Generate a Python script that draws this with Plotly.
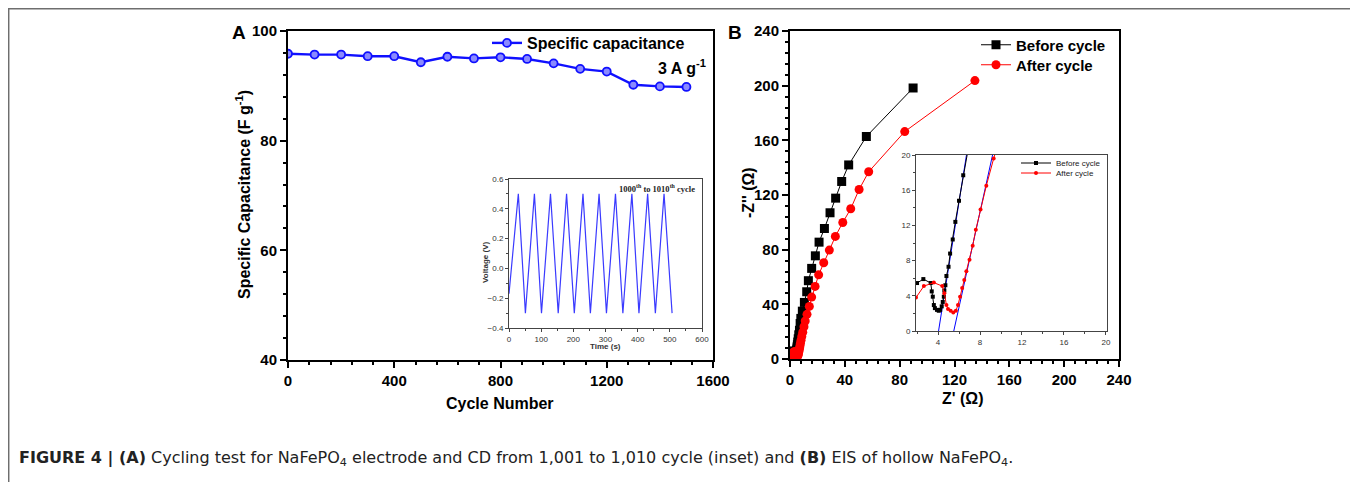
import plotly.graph_objects as go

W, H = 1358, 482

# ---- panel A: cycling test ----
cycles = [0, 100, 200, 300, 400, 500, 600, 700, 800, 900, 1000, 1100, 1200, 1300, 1400, 1500]
capacitance = [95.85, 95.7, 95.7, 95.4, 95.4, 94.3, 95.3, 95.0, 95.2, 94.9, 94.1, 93.1, 92.6, 90.2, 89.9, 89.8]

# inset A: charge/discharge 1000th-1010th cycle (turning points)
cd_time = [0, 29, 51, 79, 101, 129, 153, 179, 203, 230, 253, 280, 303, 331, 354, 382, 404, 431, 455, 482, 507]
cd_volt = [-0.17, 0.5, -0.3, 0.5, -0.3, 0.5, -0.3, 0.5, -0.3, 0.5, -0.3, 0.5, -0.3, 0.5, -0.3, 0.5, -0.3, 0.5, -0.3, 0.5, -0.3]

# ---- panel B: EIS ----
before_x = [1.0, 1.5, 2.0, 2.6, 3.3, 3.4, 3.5, 3.6, 3.7, 3.9, 4.07, 4.2, 4.35, 4.45, 4.55, 4.6, 4.7, 4.8,
            5.0, 5.15, 5.4, 5.65, 6.0, 6.4, 6.9, 7.4, 7.9, 9.0, 10.5, 12.2, 13.4, 15.8, 18.5, 21.2,
            25.1, 29.2, 33.3, 37.7, 42.8, 55.7, 89.8]
before_y = [2.0, 4.5, 5.45, 5.9, 5.45, 4.5, 3.9, 2.95, 2.6, 2.4, 2.3, 2.4, 2.8, 3.3, 3.9, 4.6, 5.2, 6.25,
            7.3, 8.8, 10.4, 12.4, 14.8, 17.7, 21.0, 26.0, 29.7, 35.0, 41.4, 49.2, 57.3, 66.3, 75.5, 85.5,
            95.5, 107.0, 117.7, 129.9, 142.0, 162.8, 198.3]
after_x = [0.8, 1.3, 1.9, 2.65, 3.6, 4.4, 4.6, 4.8, 4.95, 5.2, 5.45, 5.7, 5.9, 6.1, 6.3, 6.5, 6.7,
           7.0, 7.3, 7.6, 8.05, 8.6, 9.3, 10.2, 11.1, 12.4, 14.1, 15.8, 18.3, 20.9, 24.6, 28.7,
           33.1, 38.5, 44.3, 50.4, 57.4, 83.7, 134.9]
after_y = [1.0, 2.6, 3.8, 5.1, 5.5, 5.1, 4.3, 2.95, 2.5, 2.3, 2.1, 2.3, 2.95, 3.9, 4.9, 5.8, 6.8,
           8.1, 9.7, 11.5, 13.8, 16.5, 19.6, 23.6, 27.8, 32.7, 38.5, 45.3, 53.1, 61.6, 70.4, 79.7,
           89.7, 99.9, 109.9, 124.0, 137.0, 166.4, 203.7]
fit_before_x = [4.05, 6.75]
fit_before_y = [0, 20.3]
fit_after_x = [5.5, 9.25]
fit_after_y = [0, 20.3]

OFF = 8  # page body margin


def px(x):
    return (x - OFF) / W


def py(y):
    return 1 - (y - OFF) / H


SANS = "Liberation Sans, Arial"
bold = dict(family=SANS, size=15, color="black", weight="bold")
small = dict(family=SANS, size=8, color="#333")

fig = go.Figure()

fig.add_trace(go.Scatter(x=cycles, y=capacitance, mode="lines+markers", name="Specific capacitance",
                         line=dict(color="#1010ff", width=2.4),
                         marker=dict(symbol="circle", size=8, color="#8a8aff",
                                     line=dict(color="#1010ff", width=1.8)),
                         xaxis="x", yaxis="y", legend="legend"))
fig.add_trace(go.Scatter(x=cd_time, y=cd_volt, mode="lines", showlegend=False,
                         line=dict(color="#3a3aff", width=1.2), xaxis="x2", yaxis="y2"))

fig.add_trace(go.Scatter(x=before_x, y=before_y, mode="lines+markers", name="Before cycle",
                         line=dict(color="black", width=1),
                         marker=dict(symbol="square", size=9, color="black"),
                         xaxis="x3", yaxis="y3", legend="legend2"))
fig.add_trace(go.Scatter(x=after_x, y=after_y, mode="lines+markers", name="After cycle",
                         line=dict(color="red", width=1),
                         marker=dict(symbol="circle", size=9, color="red"),
                         xaxis="x3", yaxis="y3", legend="legend3"))

fig.add_trace(go.Scatter(x=fit_before_x, y=fit_before_y, mode="lines", showlegend=False,
                         line=dict(color="blue", width=1), xaxis="x4", yaxis="y4"))
fig.add_trace(go.Scatter(x=fit_after_x, y=fit_after_y, mode="lines", showlegend=False,
                         line=dict(color="blue", width=1), xaxis="x4", yaxis="y4"))
fig.add_trace(go.Scatter(x=before_x, y=before_y, mode="lines+markers", name="Before cycle",
                         line=dict(color="black", width=1),
                         marker=dict(symbol="square", size=4, color="black"),
                         xaxis="x4", yaxis="y4", legend="legend4"))
fig.add_trace(go.Scatter(x=after_x, y=after_y, mode="lines+markers", name="After cycle",
                         line=dict(color="red", width=1),
                         marker=dict(symbol="circle", size=4, color="red"),
                         xaxis="x4", yaxis="y4", legend="legend5"))


def main_axis(domain, anchor, rng, dtick, minor, tick0=0):
    return dict(domain=domain, anchor=anchor, range=rng, dtick=dtick, tick0=tick0,
                automargin=False,
                showline=True, linecolor="black", linewidth=2, mirror=True,
                ticks="outside", ticklen=6, tickwidth=2, tickcolor="black",
                minor=dict(dtick=minor, tick0=tick0, ticks="outside", ticklen=3, tickwidth=1.5,
                           tickcolor="black"),
                showgrid=False, zeroline=False, tickfont=bold)


def inset_axis(domain, anchor, rng, dtick, minor, tick0=0, fmt=None):
    d = dict(domain=domain, anchor=anchor, range=rng, dtick=dtick, tick0=tick0,
             automargin=False,
             showline=True, linecolor="#444", linewidth=1, mirror=True,
             ticks="outside", ticklen=3, tickwidth=1, tickcolor="#444",
             minor=dict(dtick=minor, tick0=tick0, ticks="outside", ticklen=2, tickwidth=1,
                        tickcolor="#444"),
             showgrid=False, zeroline=False, tickfont=small)
    if fmt:
        d["tickformat"] = fmt
    return d


def leg(x, y, size, color="black", weight="bold"):
    return dict(x=px(x), y=py(y), xanchor="left", yanchor="middle", bgcolor="rgba(0,0,0,0)",
                font=dict(family=SANS, size=size, color=color, weight=weight))


fig.update_layout(
    width=W, height=H, margin=dict(l=0, r=0, t=0, b=0, autoexpand=False),
    paper_bgcolor="white", plot_bgcolor="white",
    xaxis=main_axis([px(288), px(713)], "y", [0, 1600], 400, 80),
    yaxis=main_axis([py(360), py(31)], "x", [40, 100], 20, 4),
    xaxis2=inset_axis([px(509), px(702)], "y2", [0, 600], 100, 50),
    yaxis2=inset_axis([py(328), py(179)], "x2", [-0.4, 0.6], 0.2, 0.1, tick0=-0.4, fmt=".1f"),
    xaxis3=main_axis([px(790), px(1119)], "y3", [0, 240], 40, 8),
    yaxis3=main_axis([py(359), py(31)], "x3", [0, 240], 40, 8),
    xaxis4=inset_axis([px(916), px(1107)], "y4", [1.9, 20.1], 4, 2),
    yaxis4=inset_axis([py(331), py(155)], "x4", [0, 20], 4, 2),
    legend=leg(487, 43, 16),
    legend2=leg(976, 45, 15),
    legend3=leg(976, 65, 15),
    legend4=leg(1016, 163, 8, "#222", "normal"),
    legend5=leg(1016, 173, 8, "#222", "normal"),
    showlegend=True,
)

annos = [
    dict(x=px(239), y=py(32), text="<b>A</b>", font=dict(family=SANS, size=19, color="black")),
    dict(x=px(735), y=py(32), text="<b>B</b>", font=dict(family=SANS, size=19, color="black")),
    dict(x=px(500), y=py(403), text="<b>Cycle Number</b>", font=dict(family=SANS, size=16, color="black")),
    dict(x=px(243), y=py(195), text="<b>Specific Capacitance (F g<sup>-1</sup>)</b>", textangle=-90,
         font=dict(family=SANS, size=16, color="black")),
    dict(x=px(708), y=py(67), text="<b>3 A g<sup>-1</sup></b>", xanchor="right",
         font=dict(family=SANS, size=16, color="black")),
    dict(x=px(697), y=py(188), text="1000<sup>th</sup> to 1010<sup>th</sup> cycle", xanchor="right",
         font=dict(family="Liberation Serif, Times New Roman", size=8.5, color="#222", weight="bold")),
    dict(x=px(485), y=py(262), text="<b>Voltage (V)</b>", textangle=-90,
         font=dict(family=SANS, size=8, color="#333")),
    dict(x=px(605), y=py(346), text="<b>Time (s)</b>",
         font=dict(family=SANS, size=8, color="#333")),
    dict(x=px(963), y=py(398), text="<b>Z' (Ω)</b>", font=dict(family=SANS, size=16, color="black")),
    dict(x=px(748), y=py(192), text="<b>-Z'' (Ω)</b>", textangle=-90,
         font=dict(family=SANS, size=16, color="black")),
    dict(x=px(17), y=py(458), xanchor="left",
         text="<b>FIGURE 4 | (A)</b> Cycling test for NaFePO<sub>4</sub> electrode and CD from 1,001 to 1,010 "
              "cycle (inset) and <b>(B)</b> EIS of hollow NaFePO<sub>4</sub>.",
         font=dict(family="DejaVu Sans, Liberation Sans", size=16, color="#222")),
]
for a in annos:
    a.update(xref="paper", yref="paper", showarrow=False)
    a.setdefault("xanchor", "center")
    a.setdefault("yanchor", "middle")
fig.update_layout(annotations=annos)

fig.add_shape(type="rect", xref="paper", yref="paper", x0=px(8.7), x1=px(1355.5), y0=-0.05, y1=py(8.7),
              line=dict(color="#6e6e6e", width=1.5), fillcolor="rgba(0,0,0,0)", layer="below")

fig.write_html("out.html")
